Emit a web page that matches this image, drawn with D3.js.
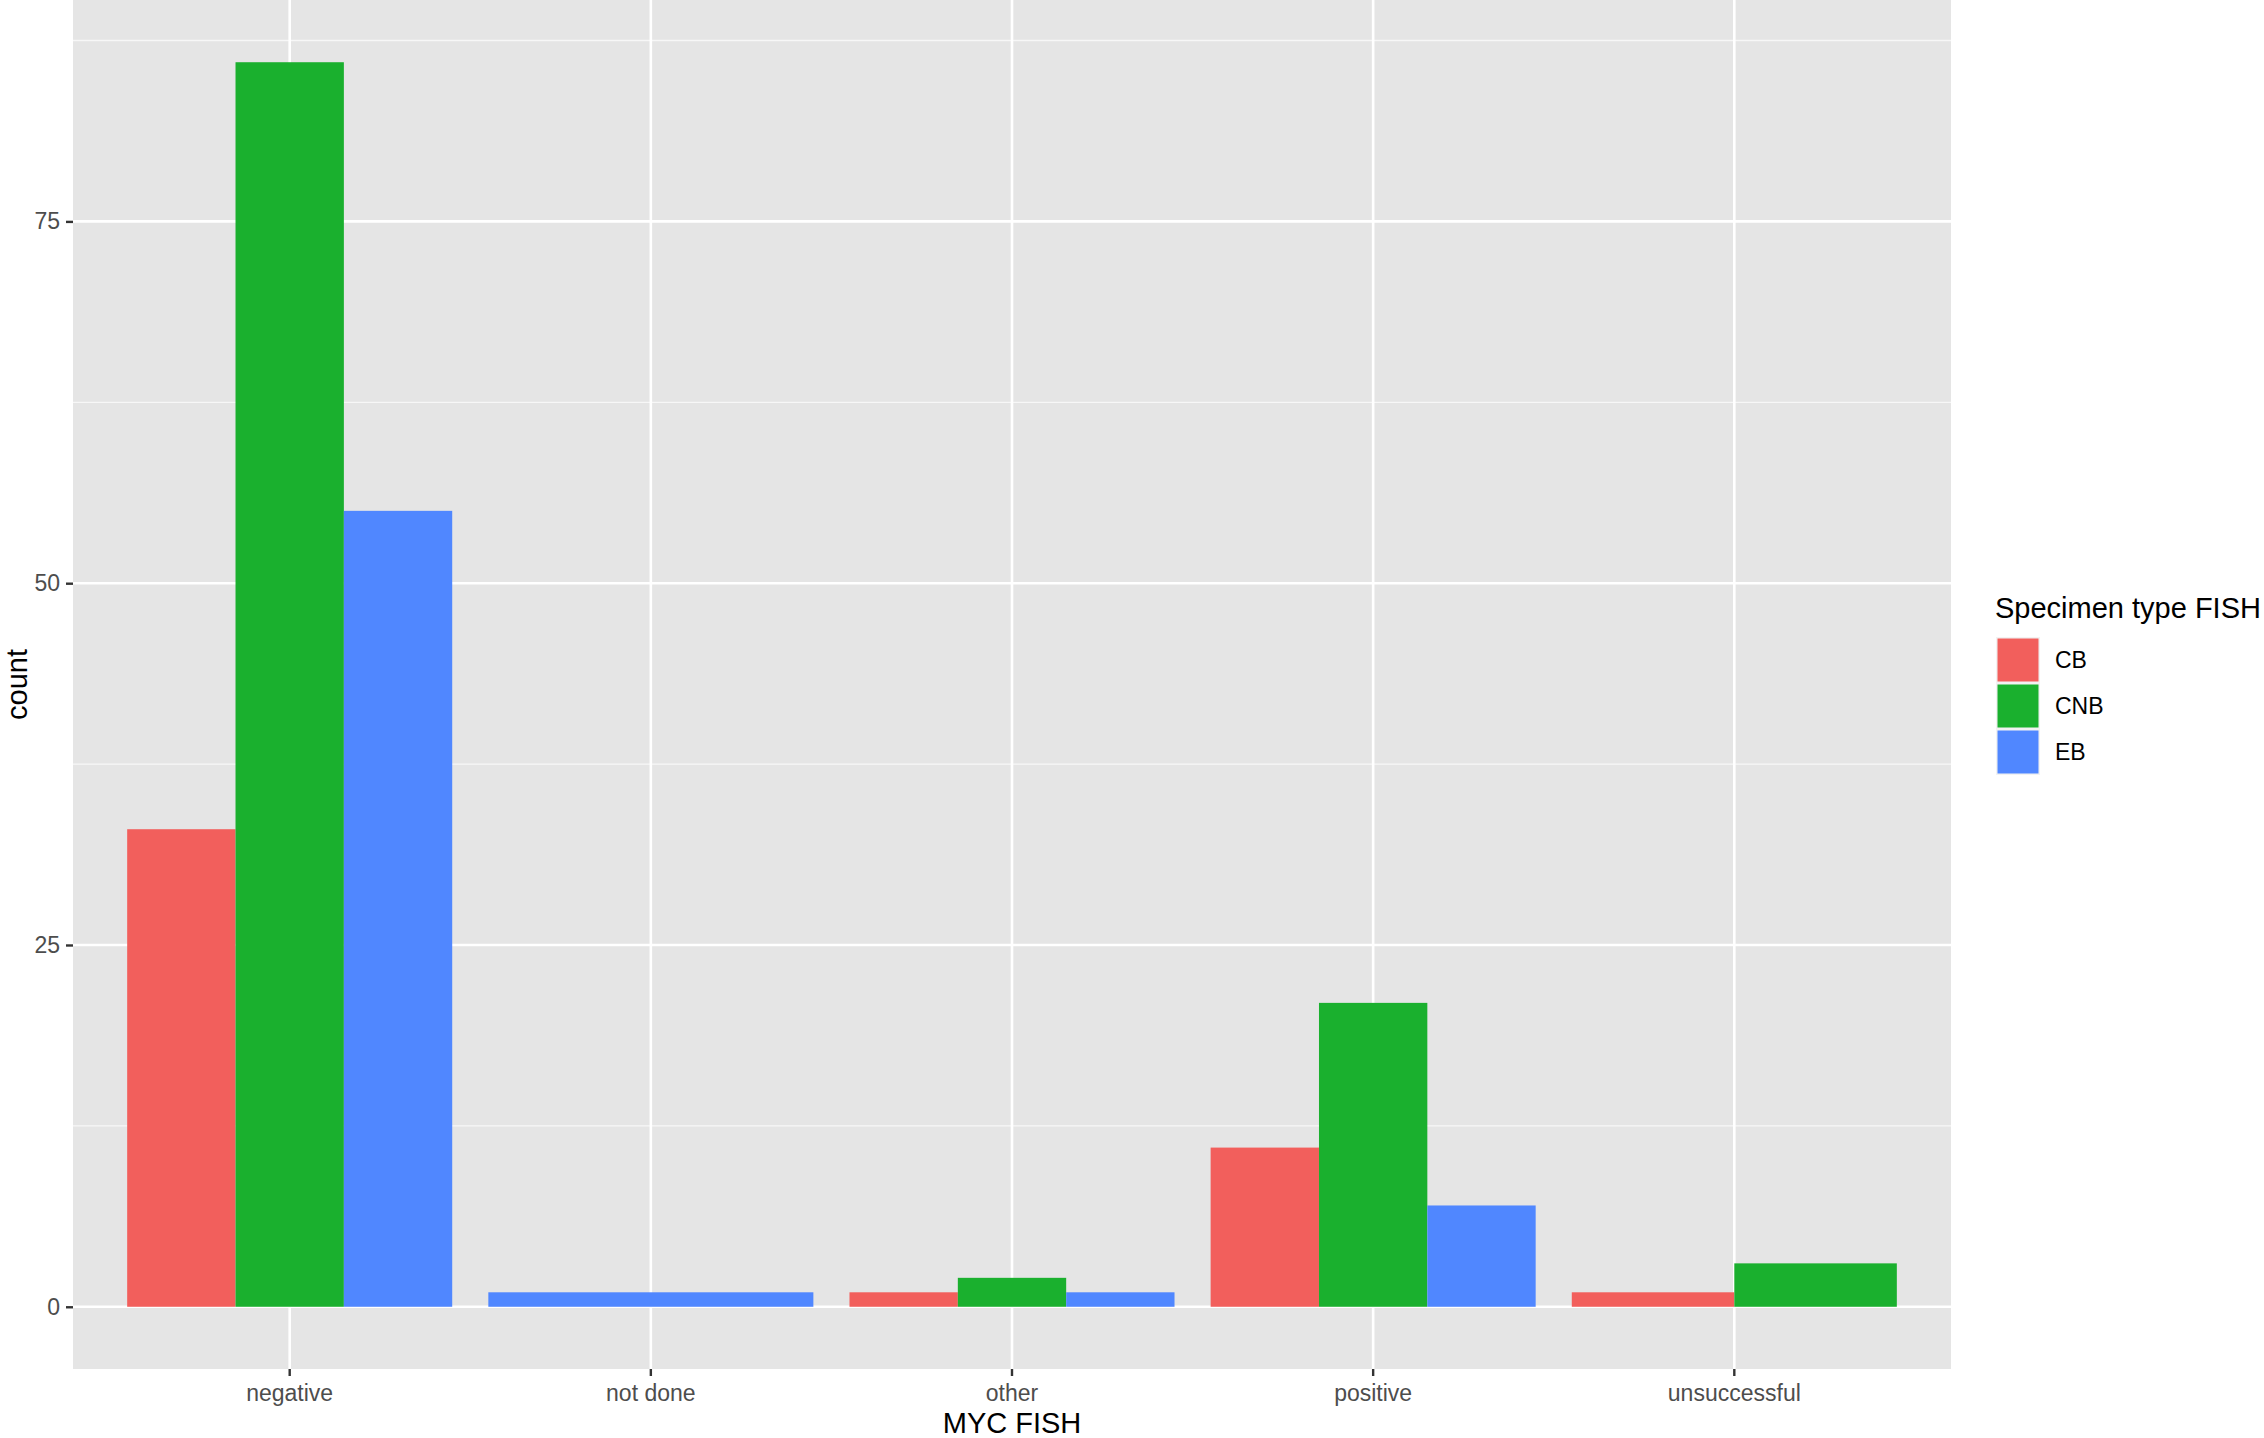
<!DOCTYPE html>
<html>
<head>
<meta charset="utf-8">
<script src="https://cdn.jsdelivr.net/npm/d3@7"></script>
<style>
  html, body { margin: 0; padding: 0; background: #ffffff; }
  svg { display: block; font-family: "Liberation Sans", Arial, Helvetica, sans-serif; }
</style>
</head>
<body>
<svg id="chart" width="2264" height="1438"></svg>
<script>
// ---- data ----
const categories = ["negative", "not done", "other", "positive", "unsuccessful"];
const types = ["CB", "CNB", "EB"];
const countCB  = [33, null, 1, 11, 1];
const countCNB = [86, null, 2, 21, 3];
const countEB  = [55, 1, 1, 7, null];
const yTicks = [0, 25, 50, 75];
const yMinor = [12.5, 37.5, 62.5, 87.5];
const xTitle = "MYC FISH";
const yTitle = "count";
const legendTitle = "Specimen type FISH";
const colors = ["#F25F5C", "#1AB02E", "#5087FF"];

const series = [countCB, countCNB, countEB];

// ---- layout ----
const svg = d3.select("#chart");
const panel = { left: 73, right: 1951, top: 0, bottom: 1369 };

const x = d3.scaleBand().domain(categories)
  .range([panel.left, panel.right]).paddingInner(0).paddingOuter(0.1);
const ymax = d3.max(series.flat().filter(v => v != null));
const y = d3.scaleLinear().domain([-0.05 * ymax, ymax * 1.05])
  .range([panel.bottom, panel.top]);
const color = d3.scaleOrdinal().domain(types).range(colors);

// panel background
svg.append("rect")
  .attr("x", panel.left).attr("y", panel.top)
  .attr("width", panel.right - panel.left).attr("height", panel.bottom - panel.top)
  .attr("fill", "#E5E5E5");

// minor grid
svg.append("g").selectAll("line").data(yMinor).join("line")
  .attr("x1", panel.left).attr("x2", panel.right)
  .attr("y1", d => y(d)).attr("y2", d => y(d))
  .attr("stroke", "#F7F7F7").attr("stroke-width", 1.3);

// major grid
svg.append("g").selectAll("line").data(yTicks).join("line")
  .attr("x1", panel.left).attr("x2", panel.right)
  .attr("y1", d => y(d)).attr("y2", d => y(d))
  .attr("stroke", "#FFFFFF").attr("stroke-width", 2.6);
svg.append("g").selectAll("line").data(categories).join("line")
  .attr("x1", d => x(d) + x.bandwidth() / 2).attr("x2", d => x(d) + x.bandwidth() / 2)
  .attr("y1", panel.top).attr("y2", panel.bottom)
  .attr("stroke", "#FFFFFF").attr("stroke-width", 2.6);

// bars (ggplot dodge: width shared among groups present at each x)
const rows = [];
categories.forEach((c, i) => {
  const present = types.filter((t, j) => series[j][i] != null);
  present.forEach((t, k) => {
    const j = types.indexOf(t);
    rows.push({ cat: c, type: t, value: series[j][i], k: k, n: present.length });
  });
});
const inner = 0.9;
svg.append("g").selectAll("rect").data(rows).join("rect")
  .attr("x", d => {
    const bw = x.bandwidth();
    const start = x(d.cat) + bw * (1 - inner) / 2;
    return start + d.k * bw * inner / d.n;
  })
  .attr("width", d => x.bandwidth() * inner / d.n)
  .attr("y", d => y(d.value))
  .attr("height", d => y(0) - y(d.value))
  .attr("fill", d => color(d.type));

// y axis
const yAxis = d3.axisLeft(y).tickValues(yTicks).tickSize(7).tickPadding(6);
const gy = svg.append("g").attr("transform", `translate(${panel.left},0)`).call(yAxis);
gy.select(".domain").remove();
gy.selectAll(".tick line").attr("stroke", "#333333").attr("stroke-width", 2.4);
gy.selectAll(".tick text").attr("fill", "#4D4D4D").attr("font-size", 23)
  .attr("font-family", "Liberation Sans, Arial, sans-serif");

// x axis
const xAxis = d3.axisBottom(x).tickSize(7).tickPadding(9);
const gx = svg.append("g").attr("transform", `translate(0,${panel.bottom})`).call(xAxis);
gx.select(".domain").remove();
gx.selectAll(".tick line").attr("stroke", "#333333").attr("stroke-width", 2.4);
gx.selectAll(".tick text").attr("fill", "#4D4D4D").attr("font-size", 23)
  .attr("font-family", "Liberation Sans, Arial, sans-serif");

// axis titles
svg.append("text").attr("x", (panel.left + panel.right) / 2).attr("y", 1433)
  .attr("text-anchor", "middle").attr("font-size", 29).attr("fill", "#000")
  .text(xTitle);
svg.append("text").attr("transform", `translate(27,${(panel.top + panel.bottom) / 2}) rotate(-90)`)
  .attr("text-anchor", "middle").attr("font-size", 29).attr("fill", "#000")
  .text(yTitle);

// legend
const lg = svg.append("g");
lg.append("text").attr("x", 1995).attr("y", 618).attr("font-size", 29).attr("fill", "#000")
  .text(legendTitle);
const keyY = d3.scaleBand().domain(types).range([637, 775]);
const keys = lg.selectAll("g.key").data(types).join("g").attr("class", "key");
keys.append("rect").attr("x", 1996).attr("y", d => keyY(d))
  .attr("width", 44).attr("height", keyY.bandwidth())
  .attr("fill", "#F2F2F2");
keys.append("rect").attr("x", 1997.5).attr("y", d => keyY(d) + 1.5)
  .attr("width", 41).attr("height", keyY.bandwidth() - 3)
  .attr("fill", d => color(d));
keys.append("text").attr("x", 2055).attr("y", d => keyY(d) + keyY.bandwidth() / 2 + 8)
  .attr("font-size", 23).attr("fill", "#000").text(d => d);
</script>
</body>
</html>
